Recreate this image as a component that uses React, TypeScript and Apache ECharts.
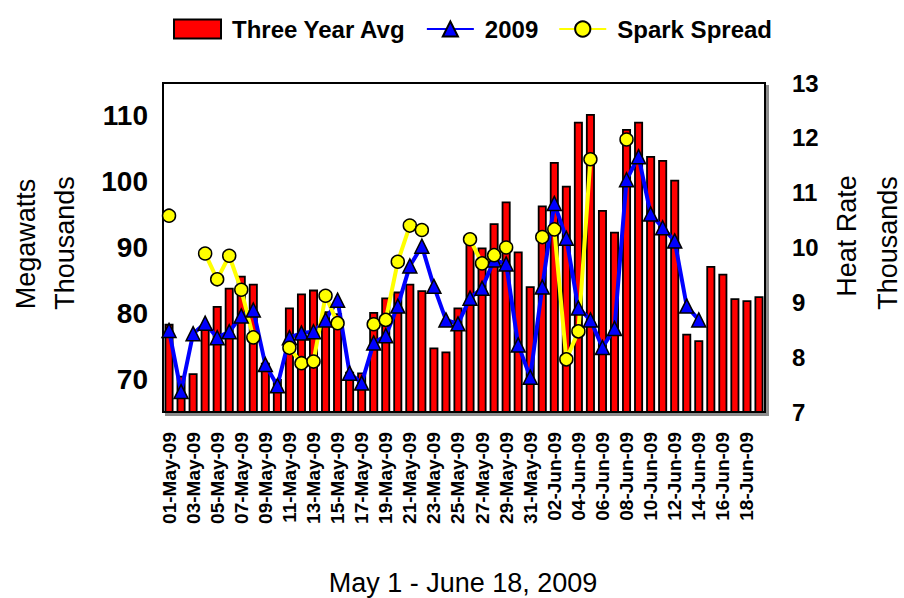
import React, { useEffect, useRef } from "react";
import * as echarts from "echarts";

const categories = [
  "01-May-09", "02-May-09", "03-May-09", "04-May-09", "05-May-09", "06-May-09", "07-May-09",
  "08-May-09", "09-May-09", "10-May-09", "11-May-09", "12-May-09", "13-May-09", "14-May-09",
  "15-May-09", "16-May-09", "17-May-09", "18-May-09", "19-May-09", "20-May-09", "21-May-09",
  "22-May-09", "23-May-09", "24-May-09", "25-May-09", "26-May-09", "27-May-09", "28-May-09",
  "29-May-09", "30-May-09", "31-May-09", "01-Jun-09", "02-Jun-09", "03-Jun-09", "04-Jun-09",
  "05-Jun-09", "06-Jun-09", "07-Jun-09", "08-Jun-09", "09-Jun-09", "10-Jun-09", "11-Jun-09",
  "12-Jun-09", "13-Jun-09", "14-Jun-09", "15-Jun-09", "16-Jun-09", "17-Jun-09", "18-Jun-09",
  "19-Jun-09",
];

// Megawatts (thousands), left axis
const threeYearAvg = [
  78.4, 70.5, 70.9, 78.0, 81.1, 83.9, 85.7, 84.5, 72.5, 70.0,
  80.9, 83.0, 83.6, 80.3, 80.0, 71.1, 71.0, 80.2, 82.4, 83.3,
  84.5, 83.5, 74.8, 74.2, 80.9, 90.8, 90.0, 93.7, 97.0, 89.4,
  84.1, 96.4, 103.0, 99.4, 109.1, 110.3, 95.7, 92.4, 108.0, 109.1,
  103.9, 103.3, 100.3, 76.9, 75.9, 87.2, 86.0, 82.3, 82.0, 82.6,
];

// Megawatts (thousands), left axis
const year2009 = [
  77.4, 68.1, 76.9, 78.5, 76.3, 77.2, 79.6, 80.5, 72.2, 69.0,
  76.3, 77.0, 77.2, 79.0, 82.0, 70.9, 69.4, 75.5, 76.6, 81.1,
  87.2, 90.2, 84.1, 79.0, 78.4, 82.3, 83.8, 88.1, 87.5, 75.2,
  70.3, 84.0, 96.7, 91.4, 80.8, 79.0, 74.8, 77.7, 100.3, 103.8,
  95.1, 93.0, 91.0, 81.1, 79.0, null, null, null, null, null,
];

// Heat rate (thousands), right axis
const sparkSpread = [
  10.58, null, null, 9.89, 9.42, 9.85, 9.23, 8.36, null, null,
  8.17, 7.89, 7.92, 9.12, 8.62, null, null, 8.6, 8.68, 9.74,
  10.4, 10.32, null, null, null, 10.15, 9.71, 9.86, 10.0, null,
  null, 10.19, 10.33, 7.96, 8.47, 11.61, null, null, 11.97, null,
  null, null, null, null, null, null, null, null, null, null,
];

const leftTicks = [70, 80, 90, 100, 110];
const rightTicks = [7, 8, 9, 10, 11, 12, 13];

const FONT = '"Liberation Sans", Arial, Helvetica, sans-serif';

export default function App() {
  const ref = useRef<HTMLDivElement>(null);

  useEffect(() => {
    document.body.style.margin = "0";
    const chart = echarts.init(ref.current!, null, { renderer: "svg" });
    chart.setOption({
      animation: false,
      backgroundColor: "#ffffff",
      textStyle: { fontFamily: FONT },
      legend: {
        top: 12,
        left: 168,
        itemWidth: 47,
        itemHeight: 19,
        itemGap: 20,
        textStyle: {
          fontFamily: FONT,
          fontSize: 24,
          fontWeight: "bold",
          color: "#000",
          padding: [0, 0, 0, 6],
        },
        data: [
          { name: "Three Year Avg", icon: "rect" },
          { name: "2009" },
          { name: "Spark Spread" },
        ],
      },
      grid: {
        left: 163,
        right: 139,
        top: 83,
        bottom: 186,
        show: true,
        borderColor: "#000",
        borderWidth: 2,
        backgroundColor: "#fff",
        shadowColor: "#8c8c8c",
        shadowOffsetX: 3,
        shadowOffsetY: 3,
        shadowBlur: 0,
      },
      xAxis: {
        type: "category",
        data: categories,
        axisLine: { show: false },
        axisTick: { show: false },
        splitLine: { show: false },
        axisLabel: {
          interval: 1,
          rotate: 90,
          margin: 20,
          fontFamily: FONT,
          fontSize: 19,
          fontWeight: "bold",
          color: "#000",
        },
      },
      yAxis: [
        {
          type: "value",
          min: 65,
          max: 115,
          interval: 5,
          splitLine: { show: false },
          axisLine: { show: false },
          axisTick: { show: false },
          axisLabel: {
            formatter: (v: number) => (leftTicks.includes(v) ? String(v) : ""),
            fontFamily: FONT,
            fontSize: 28,
            fontWeight: "bold",
            color: "#000",
            margin: 15,
          },
        },
        {
          type: "value",
          position: "right",
          min: 7,
          max: 13,
          interval: 1,
          splitLine: { show: false },
          axisLine: { show: false },
          axisTick: { show: false },
          axisLabel: {
            formatter: (v: number) => (rightTicks.includes(v) ? String(v) : ""),
            fontFamily: FONT,
            fontSize: 24,
            fontWeight: "bold",
            color: "#000",
            margin: 27,
          },
        },
      ],
      series: [
        {
          name: "Three Year Avg",
          type: "bar",
          data: threeYearAvg,
          barWidth: 9,
          itemStyle: { color: "#ff0000", borderColor: "#000", borderWidth: 1.8 },
        },
        {
          name: "2009",
          type: "line",
          yAxisIndex: 0,
          data: year2009,
          symbol: "triangle",
          symbolSize: 14,
          showAllSymbol: true,
          connectNulls: false,
          lineStyle: { color: "#0000ff", width: 4 },
          itemStyle: { color: "#0000ff", borderColor: "#000", borderWidth: 1.5 },
        },
        {
          name: "Spark Spread",
          type: "line",
          yAxisIndex: 1,
          data: sparkSpread,
          symbol: "circle",
          symbolSize: 13,
          showAllSymbol: true,
          connectNulls: false,
          lineStyle: { color: "#ffff00", width: 4 },
          itemStyle: { color: "#ffff00", borderColor: "#000", borderWidth: 1.5 },
        },
      ],
      graphic: [
        {
          type: "text",
          x: 26,
          y: 244,
          rotation: Math.PI / 2,
          style: { text: "Megawatts", fontFamily: FONT, fontSize: 27, fill: "#000", align: "center", verticalAlign: "middle" },
        },
        {
          type: "text",
          x: 65,
          y: 243,
          rotation: Math.PI / 2,
          style: { text: "Thousands", fontFamily: FONT, fontSize: 27, fill: "#000", align: "center", verticalAlign: "middle" },
        },
        {
          type: "text",
          x: 847,
          y: 236,
          rotation: Math.PI / 2,
          style: { text: "Heat Rate", fontFamily: FONT, fontSize: 27, fill: "#000", align: "center", verticalAlign: "middle" },
        },
        {
          type: "text",
          x: 888,
          y: 243,
          rotation: Math.PI / 2,
          style: { text: "Thousands", fontFamily: FONT, fontSize: 27, fill: "#000", align: "center", verticalAlign: "middle" },
        },
        {
          type: "text",
          x: 463,
          y: 583,
          style: { text: "May 1 - June 18, 2009", fontFamily: FONT, fontSize: 27, fill: "#000", align: "center", verticalAlign: "middle" },
        },
      ],
    });
    return () => chart.dispose();
  }, []);

  return <div ref={ref} style={{ width: 904, height: 598 }} />;
}
